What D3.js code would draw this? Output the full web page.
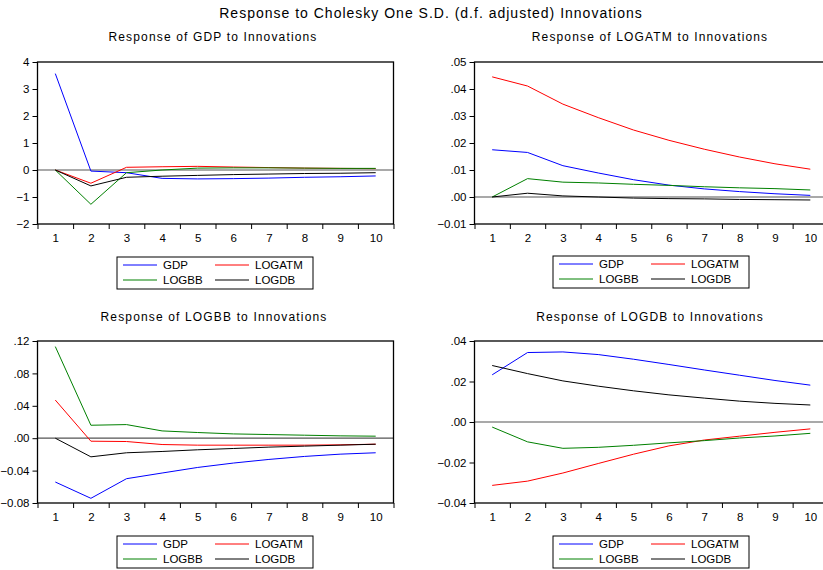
<!DOCTYPE html>
<html><head><meta charset="utf-8">
<script src="https://cdn.jsdelivr.net/npm/d3@7"></script>
<style>body{margin:0;background:#fff}svg{display:block;font-family:"Liberation Sans",Arial,sans-serif}</style>
</head><body><svg id="c" width="823" height="570"></svg>
<script>
const periods = [1,2,3,4,5,6,7,8,9,10];
const seriesNames = ["GDP","LOGATM","LOGBB","LOGDB"];
const seriesColors = ["#0000ff","#ff0000","#008000","#000000"];
const mainTitle = "Response to Cholesky One S.D. (d.f. adjusted) Innovations";

// Response of GDP
const gdp_GDP    = [3.57,-0.04,-0.10,-0.31,-0.33,-0.32,-0.30,-0.27,-0.25,-0.22];
const gdp_LOGATM = [0,-0.49,0.10,0.12,0.135,0.11,0.09,0.07,0.06,0.05];
const gdp_LOGBB  = [0,-1.27,-0.10,0.00,0.07,0.08,0.08,0.07,0.06,0.06];
const gdp_LOGDB  = [0,-0.59,-0.27,-0.23,-0.20,-0.17,-0.15,-0.13,-0.12,-0.10];
const gdpTicks = [-2,-1,0,1,2,3,4];

// Response of LOGATM
const atm_GDP    = [0.0175,0.0165,0.0116,0.0089,0.0064,0.0044,0.0030,0.0020,0.0012,0.0006];
const atm_LOGATM = [0.0445,0.0411,0.0344,0.0294,0.0248,0.0210,0.0177,0.0148,0.0123,0.0103];
const atm_LOGBB  = [0,0.0068,0.0055,0.0052,0.0047,0.0043,0.0038,0.0034,0.0031,0.0026];
const atm_LOGDB  = [0,0.0014,0.0004,0.0000,-0.0004,-0.0006,-0.0007,-0.0009,-0.0010,-0.0011];
const atmTicks = [-0.01,0,0.01,0.02,0.03,0.04,0.05];

// Response of LOGBB
const bb_GDP    = [-0.0541,-0.0742,-0.0500,-0.0430,-0.0361,-0.0307,-0.0262,-0.0225,-0.0197,-0.0180];
const bb_LOGATM = [0.0471,-0.0037,-0.0041,-0.0078,-0.0086,-0.0086,-0.0086,-0.0086,-0.0082,-0.0074];
const bb_LOGBB  = [0.1131,0.0160,0.0168,0.0090,0.0070,0.0053,0.0045,0.0037,0.0029,0.0025];
const bb_LOGDB  = [0,-0.0230,-0.0180,-0.0164,-0.0143,-0.0127,-0.0110,-0.0098,-0.0086,-0.0074];
const bbTicks = [-0.08,-0.04,0,0.04,0.08,0.12];

// Response of LOGDB
const db_GDP    = [0.0233,0.0343,0.0346,0.0333,0.0310,0.0284,0.0257,0.0231,0.0205,0.0182];
const db_LOGATM = [-0.0313,-0.0292,-0.0252,-0.0205,-0.0159,-0.0118,-0.0089,-0.0070,-0.0051,-0.0034];
const db_LOGBB  = [-0.0025,-0.0098,-0.0130,-0.0125,-0.0115,-0.0103,-0.0092,-0.0079,-0.0069,-0.0056];
const db_LOGDB  = [0.0279,0.0239,0.0203,0.0177,0.0154,0.0134,0.0118,0.0103,0.0092,0.0084];
const dbTicks = [-0.04,-0.02,0,0.02,0.04];

const panels = [
  {title:"Response of GDP to Innovations", data:[gdp_GDP,gdp_LOGATM,gdp_LOGBB,gdp_LOGDB], ticks:gdpTicks, fmt:d3.format("d"),
   x0:37.5, x1:393.5, y0:62, y1:224, tx:213, ty:41, lx:117, ly:257},
  {title:"Response of LOGATM to Innovations", data:[atm_GDP,atm_LOGATM,atm_LOGBB,atm_LOGDB], ticks:atmTicks, fmt:null,
   x0:474.5, x1:828, y0:62, y1:224, tx:650, ty:41, lx:553, ly:256},
  {title:"Response of LOGBB to Innovations", data:[bb_GDP,bb_LOGATM,bb_LOGBB,bb_LOGDB], ticks:bbTicks, fmt:null,
   x0:37.5, x1:393.5, y0:341, y1:503, tx:214, ty:321, lx:117, ly:536},
  {title:"Response of LOGDB to Innovations", data:[db_GDP,db_LOGATM,db_LOGBB,db_LOGDB], ticks:dbTicks, fmt:null,
   x0:474.5, x1:828, y0:341, y1:503, tx:650, ty:321, lx:553, ly:536}
];

const dec = v => { let s = d3.format(".2f")(Math.abs(v) < 1e-9 ? 0 : v); return s.replace(/^(-?)0\./,"$1."); };

const svg = d3.select("#c");
svg.append("text").attr("x",431).attr("y",18).attr("text-anchor","middle")
  .attr("font-size",14).attr("letter-spacing","1px").attr("fill","#000").text(mainTitle);

panels.forEach(p => {
  const g = svg.append("g");
  const x = d3.scaleLinear().domain([0.5,10.5]).range([p.x0,p.x1]);
  const ext = d3.extent(p.ticks);
  const y = d3.scaleLinear().domain(ext).range([p.y1,p.y0]);

  g.append("text").attr("x",p.tx).attr("y",p.ty).attr("text-anchor","middle")
    .attr("font-size",12).attr("letter-spacing","1.15px").attr("fill","#000").text(p.title);

  // zero line
  g.append("line").attr("x1",p.x0).attr("x2",p.x1).attr("y1",y(0)).attr("y2",y(0))
    .attr("stroke","#555").attr("stroke-width",1.2);

  // series
  const line = d3.line().x((d,i)=>x(periods[i])).y(d=>y(d));
  p.data.forEach((s,k) => {
    g.append("path").attr("d",line(s)).attr("fill","none")
      .attr("stroke",seriesColors[k]).attr("stroke-width",1);
  });

  // frame
  g.append("rect").attr("x",p.x0).attr("y",p.y0).attr("width",p.x1-p.x0).attr("height",p.y1-p.y0)
    .attr("fill","none").attr("stroke","#000").attr("stroke-width",1.3);

  // y axis
  const ya = d3.axisLeft(y).tickValues(p.ticks).tickSize(5).tickPadding(3)
    .tickFormat(p.fmt ? p.fmt : dec);
  const yg = g.append("g").attr("transform",`translate(${p.x0},0)`).call(ya);
  yg.select(".domain").remove();
  yg.selectAll("text").attr("font-size",11.5).attr("font-family","Liberation Sans, Arial, sans-serif").attr("fill","#000");
  yg.selectAll("line").attr("stroke","#000");

  // x axis tick marks at band boundaries
  const bounds = d3.range(0.5,11,1);
  const xm = d3.axisBottom(x).tickValues(bounds).tickSize(5).tickFormat("");
  const xmg = g.append("g").attr("transform",`translate(0,${p.y1})`).call(xm);
  xmg.select(".domain").remove();
  xmg.selectAll("line").attr("stroke","#000");
  // x labels
  const xl = d3.axisBottom(x).tickValues(periods).tickSize(0).tickPadding(10).tickFormat(d3.format("d"));
  const xlg = g.append("g").attr("transform",`translate(0,${p.y1})`).call(xl);
  xlg.select(".domain").remove();
  xlg.selectAll("text").attr("font-size",11.5).attr("font-family","Liberation Sans, Arial, sans-serif").attr("fill","#000");

  // legend
  const lg = g.append("g").attr("transform",`translate(${p.lx},${p.ly})`);
  lg.append("rect").attr("x",0).attr("y",0).attr("width",196).attr("height",32)
    .attr("fill","#fff").attr("stroke","#000").attr("stroke-width",1);
  seriesNames.forEach((n,k) => {
    const col = k%2, row = Math.floor(k/2);
    const ox = col ? 98 : 6, oy = row ? 23 : 8;
    lg.append("line").attr("x1",ox).attr("x2",ox+34).attr("y1",oy).attr("y2",oy)
      .attr("stroke",seriesColors[k]).attr("stroke-width",1);
    lg.append("text").attr("x",ox+40).attr("y",oy+4).attr("font-size",11.5).attr("fill","#000").text(n);
  });
});
</script></body></html>
